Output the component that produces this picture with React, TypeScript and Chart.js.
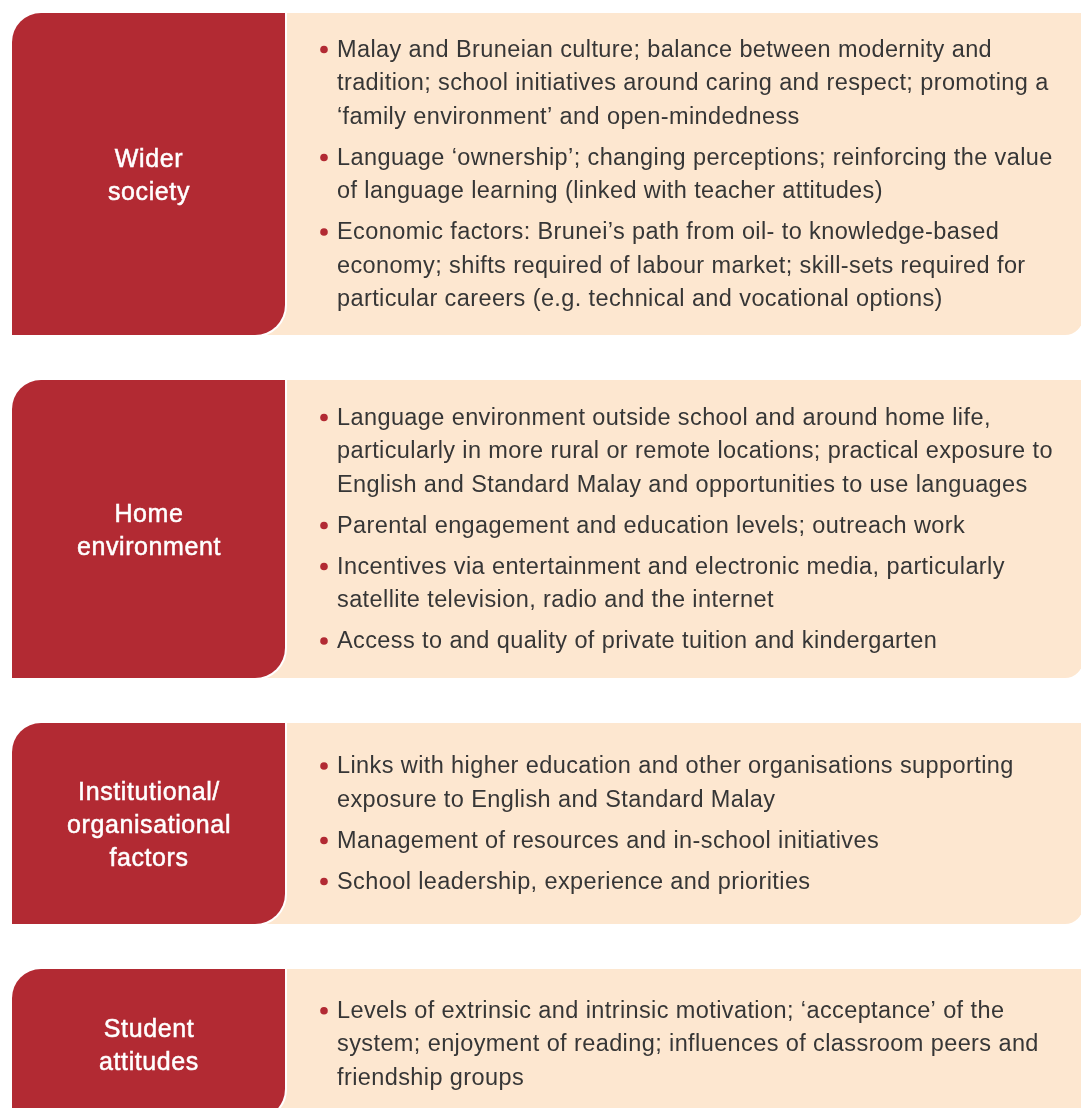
import { useEffect, useRef } from "react";
import { Chart, registerables } from "chart.js";

Chart.register(...registerables);

// ---- Data ----
const categories: string[] = [
  "Wider\nsociety",
  "Home\nenvironment",
  "Institutional/\norganisational\nfactors",
  "Student\nattitudes",
];

const widerSociety: string[] = [
  "Malay and Bruneian culture; balance between modernity and\ntradition; school initiatives around caring and respect; promoting a\n\u2018family environment\u2019 and open-mindedness",
  "Language \u2018ownership\u2019; changing perceptions; reinforcing the value\nof language learning (linked with teacher attitudes)",
  "Economic factors: Brunei\u2019s path from oil- to knowledge-based\neconomy; shifts required of labour market; skill-sets required for\nparticular careers (e.g. technical and vocational options)",
];

const homeEnvironment: string[] = [
  "Language environment outside school and around home life,\nparticularly in more rural or remote locations; practical exposure to\nEnglish and Standard Malay and opportunities to use languages",
  "Parental engagement and education levels; outreach work",
  "Incentives via entertainment and electronic media, particularly\nsatellite television, radio and the internet",
  "Access to and quality of private tuition and kindergarten",
];

const institutionalFactors: string[] = [
  "Links with higher education and other organisations supporting\nexposure to English and Standard Malay",
  "Management of resources and in-school initiatives",
  "School leadership, experience and priorities",
];

const studentAttitudes: string[] = [
  "Levels of extrinsic and intrinsic motivation; \u2018acceptance\u2019 of the\nsystem; enjoyment of reading; influences of classroom peers and\nfriendship groups",
];

const bulletGroups: string[][] = [widerSociety, homeEnvironment, institutionalFactors, studentAttitudes];

// ---- Layout / style ----
const LAYOUT = {
  top: 13,
  rowGap: 45,
  rowHeights: [322, 298, 201, 150],
  left: 12,
  redRight: 285,
  beigeRight: 1083,
  textX: 337,
  bulletX: 324,
  lineH: 33.5,
  bulletGap: 7.5,
  labelLineH: 33,
};
const RED = "#B22A33";
const BEIGE = "#FDE7D0";
const TEXT = "#363636";
const FONT_BODY = "23.5px 'Liberation Sans', Arial, sans-serif";
const FONT_LABEL = "25px 'Liberation Sans', Arial, sans-serif";
const BODY_TRACKING = "0.4px";
const LABEL_TRACKING = "0.6px";

const diagramPlugin = {
  id: "diagram",
  afterDraw(chart: any) {
    const ctx: any = chart.ctx;
    const labels: string[] = chart.data.labels;
    let y = LAYOUT.top;
    ctx.save();
    labels.forEach((label, i) => {
      const h = LAYOUT.rowHeights[i];
      // beige panel
      ctx.beginPath();
      ctx.roundRect(LAYOUT.redRight - 20, y, LAYOUT.beigeRight - (LAYOUT.redRight - 20), h, [0, 0, 18, 0]);
      ctx.fillStyle = BEIGE;
      ctx.fill();
      // red label box with white outline
      ctx.beginPath();
      ctx.roundRect(LAYOUT.left, y, LAYOUT.redRight - LAYOUT.left, h, [29, 0, 30, 0]);
      ctx.strokeStyle = "#ffffff";
      ctx.lineWidth = 4;
      ctx.stroke();
      ctx.fillStyle = RED;
      ctx.fill();
      // label
      const lab = label.split("\n");
      ctx.fillStyle = "#ffffff";
      ctx.strokeStyle = "#ffffff";
      ctx.lineWidth = 0.5;
      ctx.font = FONT_LABEL;
      ctx.letterSpacing = LABEL_TRACKING;
      ctx.textAlign = "center";
      ctx.textBaseline = "middle";
      const cx = (LAYOUT.left + LAYOUT.redRight) / 2 + 0.5;
      const ly0 = y + h / 2 + 3 - ((lab.length - 1) * LAYOUT.labelLineH) / 2;
      lab.forEach((t, k) => {
        ctx.fillText(t, cx, ly0 + k * LAYOUT.labelLineH);
        ctx.strokeText(t, cx, ly0 + k * LAYOUT.labelLineH);
      });
      // bullets
      const bullets = bulletGroups[i].map((b) => b.split("\n"));
      const nLines = bullets.reduce((s, b) => s + b.length, 0);
      const block = (nLines - 1) * LAYOUT.lineH + (bullets.length - 1) * LAYOUT.bulletGap;
      let ty = y + (h - block) / 2 + 1;
      ctx.font = FONT_BODY;
      ctx.letterSpacing = BODY_TRACKING;
      ctx.textAlign = "left";
      bullets.forEach((lines) => {
        ctx.beginPath();
        ctx.arc(LAYOUT.bulletX, ty - 0.7, 3.8, 0, Math.PI * 2);
        ctx.fillStyle = RED;
        ctx.fill();
        ctx.fillStyle = TEXT;
        lines.forEach((t, k) => {
          ctx.fillText(t, LAYOUT.textX, ty);
          if (k < lines.length - 1) ty += LAYOUT.lineH;
        });
        ty += LAYOUT.lineH + LAYOUT.bulletGap;
      });
      y += h + LAYOUT.rowGap;
    });
    ctx.restore();
  },
};

export default function App() {
  const ref = useRef<HTMLCanvasElement | null>(null);
  useEffect(() => {
    document.body.style.margin = "0";
    if (!ref.current) return;
    const chart = new Chart(ref.current, {
      type: "bar",
      data: {
        labels: categories,
        datasets: [{ label: "bullets", data: bulletGroups.map((g) => g.length), backgroundColor: "rgba(0,0,0,0)" }],
      },
      options: {
        animation: false,
        responsive: false,
        indexAxis: "y",
        events: [],
        layout: { padding: 0 },
        scales: { x: { display: false }, y: { display: false } },
        plugins: { legend: { display: false }, tooltip: { enabled: false } },
      },
      plugins: [diagramPlugin],
    });
    return () => chart.destroy();
  }, []);
  return (
    <div style={{ width: 1081, height: 1108, background: "#ffffff" }}>
      <canvas ref={ref} width={1081} height={1108} style={{ display: "block" }} />
    </div>
  );
}
